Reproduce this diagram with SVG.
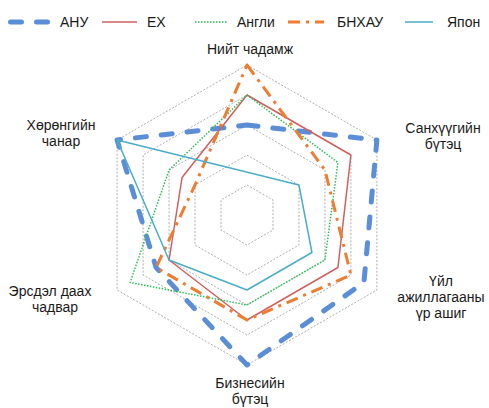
<svg xmlns="http://www.w3.org/2000/svg" width="489" height="408" viewBox="0 0 489 408">
<style>
text{font-family:"Liberation Sans",Arial,sans-serif;font-size:14px;fill:#1a1a1a}
.lbl{text-anchor:middle}
.grid{fill:none;stroke:#9a9a9a;stroke-width:0.8;stroke-dasharray:2 1.6}
.s{fill:none;stroke-linejoin:round}
.anu{stroke:#5B8ED6;stroke-width:5;stroke-dasharray:11 15;stroke-linecap:round}
.ex{stroke:#D0605E;stroke-width:1.5}
.eng{stroke:#2DBE55;stroke-width:1.5;stroke-dasharray:1.5 1.5}
.chn{stroke:#ED7D31;stroke-width:3;stroke-dasharray:12 6 3 6}
.jp{stroke:#4BACC6;stroke-width:1.5}
</style>
<rect width="489" height="408" fill="#ffffff"/>
<g id="grid">
<polygon class="grid" points="247,185 272.98,200 272.98,230 247,245 221.02,230 221.02,200"/>
<polygon class="grid" points="247,155 298.96,185 298.96,245 247,275 195.04,245 195.04,185"/>
<polygon class="grid" points="247,125 324.94,170 324.94,260 247,305 169.06,260 169.06,170"/>
<polygon class="grid" points="247,95 350.92,155 350.92,275 247,335 143.08,275 143.08,155"/>
<polygon class="grid" points="247,65 376.9,140 376.9,290 247,365 117.1,290 117.1,140"/>
</g>
<g id="series">
<polygon id="s-anu" class="s anu" points="247,125 376.9,140 363.91,282.5 247,365 156.07,267.5 117.1,140"/>
<polygon id="s-ex" class="s ex" points="247,95 350.92,155 337.93,267.5 247,320 169.06,260 182.05,177.5"/>
<polygon id="s-eng" class="s eng" points="247,95 337.93,162.5 324.94,260 247,305 130.09,282.5 169.06,170"/>
<polygon id="s-chn" class="s chn" points="247,65 324.94,170 350.92,275 247,320 156.07,267.5 195.04,185"/>
<polygon id="s-jp" class="s jp" points="298.96,185 311.95,252.5 247,290 169.06,260 117.1,140"/>
</g>
<g id="axis-labels">
<g id="ax-top"><text class="lbl" x="250" y="54">Нийт чадамж</text></g>
<g id="ax-ur"><text class="lbl" x="443" y="133">Санхүүгийн</text><text class="lbl" x="443" y="149">бүтэц</text></g>
<g id="ax-lr"><text class="lbl" x="441" y="286">Үйл</text><text class="lbl" x="441" y="302">ажиллагааны</text><text class="lbl" x="441" y="318">үр ашиг</text></g>
<g id="ax-bottom"><text class="lbl" x="250" y="388">Бизнесийн</text><text class="lbl" x="250" y="404">бүтэц</text></g>
<g id="ax-ll"><text class="lbl" x="50" y="296">Эрсдэл даах</text><text class="lbl" x="55" y="312">чадвар</text></g>
<g id="ax-ul"><text class="lbl" x="61" y="130">Хөрөнгийн</text><text class="lbl" x="61" y="146">чанар</text></g>
</g>
<g id="legend">
<g id="lg-anu"><line class="s anu" x1="10.5" y1="22" x2="50" y2="22"/><text x="60" y="27">АНУ</text></g>
<g id="lg-ex"><line class="s ex" x1="102" y1="22" x2="137" y2="22"/><text x="147" y="27">EX</text></g>
<g id="lg-eng"><line class="s eng" x1="195" y1="22" x2="227" y2="22"/><text x="237" y="27">Англи</text></g>
<g id="lg-chn"><line class="s chn" x1="288" y1="22" x2="324" y2="22"/><text x="337" y="27">БНХАУ</text></g>
<g id="lg-jp"><line class="s jp" x1="405" y1="22" x2="433" y2="22"/><text x="447" y="27">Япон</text></g>
</g>
</svg>
